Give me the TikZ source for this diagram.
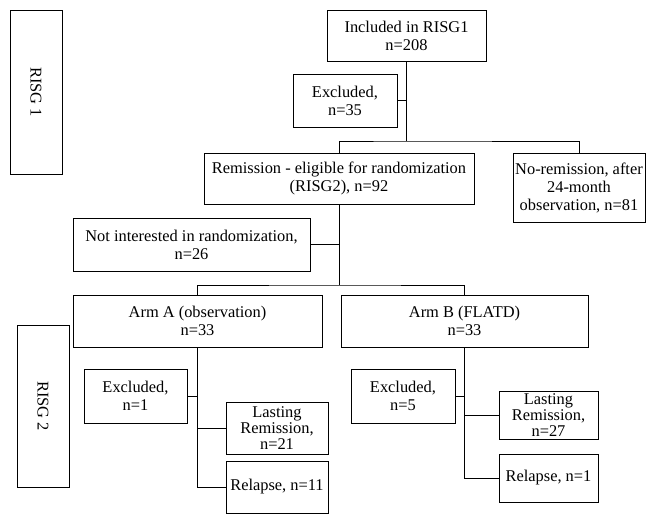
\documentclass[tikz,border=0pt]{standalone}
\usepackage{fontspec}
\setmainfont{Liberation Serif}
\usepackage{tikz}

\begin{document}
\begin{tikzpicture}[x=1pt,y=-1pt,line width=0.8pt,
    box/.style={draw,inner sep=0pt,align=center,
      font=\fontsize{16.4}{18}\selectfont},
    tightbox/.style={box,font=\fontsize{16.4}{16}\selectfont},
    sidebox/.style={box,rotate=-90,minimum height=52}]

      % 画像全体の大きさ
      \useasboundingbox (0,0) rectangle (656,524);

      % 左側のラベル
      \node[sidebox,minimum width=164] (risgA) at (36,92){RISG 1};
      \node[sidebox,minimum width=162] (risgB) at (43,406){RISG 2};

      % RISG1
      \node[box,minimum width=159,minimum height=51] (incl) at (406.5,35.5){%
        Included in RISG1\\n=208};
      \node[box,minimum width=104,minimum height=53] (exclTop) at (345,100.5){%
        Excluded,\\n=35};
      \node[box,minimum width=270,minimum height=51] (rem) at (339,178.5){%
        Remission - eligible for randomization\\(RISG2), n=92};
      \node[box,minimum width=132,minimum height=69] (norem) at (579,187.5){%
        No-remission, after\\24-month\\observation, n=81};
      \node[box,minimum width=237,minimum height=53] (notint) at (191.5,244.5){%
        Not interested in randomization,\\n=26};

      \coordinate (splitTop) at (406.5,141);
      \coordinate (splitRem) at (339,285);

      \draw (incl.south) -- (splitTop);
      \draw (exclTop.east) -- (exclTop.east -| splitTop);
      \draw (rem.north) |- (splitTop) -| (norem.north);
      \draw (rem.south) -- (splitRem);
      \draw (notint.east) -- (notint.east -| splitRem);

      % RISG2
      \node[box,minimum width=249,minimum height=52] (armA) at (197.5,321){%
        Arm A (observation)\\n=33};
      \node[box,minimum width=247,minimum height=52] (armB) at (464.5,321){%
        Arm B (FLATD)\\n=33};
      \draw (armA.north) |- (splitRem) -| (armB.north);

      % Arm A
      \node[box,minimum width=103,minimum height=54] (exclA) at (135.5,396){%
        Excluded,\\n=1};
      \node[tightbox,minimum width=102,minimum height=52] (lastA) at (277,428){%
        Lasting\\Remission,\\n=21};
      \node[box,minimum width=102,minimum height=52] (relA) at (277,487){%
        Relapse, n=11};
      \draw (armA.south) |- (relA.west);
      \draw (exclA.east) -- (exclA.east -| armA.south);
      \draw (lastA.west) -- (lastA.west -| armA.south);

      % Arm B
      \node[box,minimum width=104,minimum height=54] (exclB) at (403,396){%
        Excluded,\\n=5};
      \node[tightbox,minimum width=99,minimum height=48] (lastB) at (548.5,415){%
        Lasting\\Remission,\\n=27};
      \node[box,minimum width=99,minimum height=48] (relB) at (548.5,478){%
        Relapse, n=1};
      \draw (armB.south) |- (relB.west);
      \draw (exclB.east) -- (exclB.east -| armB.south);
      \draw (lastB.west) -- (lastB.west -| armB.south);

\end{tikzpicture}
\end{document}
